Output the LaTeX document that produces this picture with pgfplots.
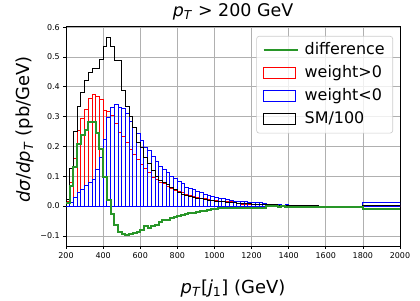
\documentclass[border=0pt]{standalone}
\usepackage{pgfplots}
\pgfplotsset{compat=1.18}
\usepackage{pgfplotstable}
\usepackage{fontspec}
\setmainfont{DejaVu Sans}
\definecolor{mgreen}{RGB}{40,150,40}
\definecolor{gridgray}{RGB}{176,176,176}
\definecolor{leggray}{RGB}{204,204,204}
\pgfplotstableread{
x red blue diff
200 0.017 0.008 0.009
220 0.079 0.012 0.067
240 0.160 0.030 0.130
260 0.252 0.045 0.207
280 0.293 0.055 0.238
300 0.324 0.068 0.256
320 0.361 0.080 0.281
340 0.373 0.090 0.283
360 0.368 0.123 0.245
380 0.356 0.164 0.192
400 0.322 0.224 0.098
420 0.317 0.297 0.020
440 0.305 0.332 -0.027
460 0.277 0.340 -0.063
480 0.246 0.332 -0.086
500 0.232 0.327 -0.095
520 0.214 0.311 -0.097
540 0.190 0.284 -0.094
560 0.172 0.262 -0.090
580 0.157 0.245 -0.088
600 0.138 0.220 -0.082
620 0.127 0.195 -0.068
640 0.114 0.188 -0.074
660 0.097 0.165 -0.068
680 0.088 0.150 -0.062
700 0.078 0.133 -0.055
720 0.075 0.123 -0.048
740 0.066 0.112 -0.046
760 0.060 0.100 -0.040
780 0.054 0.092 -0.038
800 0.049 0.082 -0.033
820 0.045 0.075 -0.030
840 0.038 0.064 -0.026
860 0.036 0.060 -0.024
880 0.033 0.055 -0.022
900 0.029 0.048 -0.019
920 0.026 0.044 -0.018
940 0.025 0.040 -0.015
960 0.022 0.034 -0.012
980 0.020 0.031 -0.011
1000 0.019 0.029 -0.010
1020 0.017 0.025 -0.008
1040 0.016 0.024 -0.008
1060 0.015 0.021 -0.006
1080 0.014 0.020 -0.006
1100 0.011 0.016 -0.005
1120 0.010 0.016 -0.006
1140 0.006 0.014 -0.008
1160 0.006 0.014 -0.008
1180 0.006 0.013 -0.007
1200 0.005 0.012 -0.007
1220 0.005 0.012 -0.007
1240 0.004 0.011 -0.007
1260 0.004 0.010 -0.006
1280 0.005 0.006 -0.001
1300 0.004 0.005 -0.001
1320 0.004 0.005 -0.001
1340 0.000 0.004 -0.004
1360 0.002 0.003 -0.001
1380 0.000 0.004 -0.004
1400 0.001 0.003 -0.002
1420 0.001 0.003 -0.002
1440 0.000 0.003 -0.003
1460 0.000 0.002 -0.002
1480 0.000 0.002 -0.002
1500 0.000 0.000 -0.002
1520 0.001 0.003 -0.002
1540 0.000 0.003 -0.002
1560 0.000 0.000 -0.002
1800 0.003 0.012 -0.009
2000 0.003 0.012 -0.009
}\histdata
\pgfplotstableread{
x sm
200 0.000
200 0.023
220 0.126
240 0.250
260 0.333
280 0.381
300 0.422
320 0.448
340 0.462
360 0.462
380 0.492
400 0.537
420 0.564
440 0.534
460 0.490
480 0.490
500 0.387
520 0.333
540 0.300
560 0.262
580 0.215
600 0.195
620 0.162
640 0.142
660 0.120
680 0.098
700 0.087
720 0.078
740 0.072
760 0.064
780 0.056
800 0.045
820 0.040
840 0.036
860 0.033
880 0.030
900 0.027
920 0.024
940 0.022
960 0.020
980 0.018
1000 0.016
1020 0.015
1040 0.014
1060 0.013
1080 0.012
1100 0.011
1120 0.010
1140 0.009
1160 0.008
1180 0.008
1200 0.007
1220 0.007
1240 0.006
1260 0.006
1280 0.005
1300 0.004
1320 0.004
1340 0.003
1360 0.003
1380 0.003
1400 0.002
1420 0.002
1440 0.002
1460 0.002
1480 0.001
1500 0.001
1520 0.001
1540 0.001
1560 0.000
1800 0.003
2000 0.003
2000 0.000
}\smdata
\begin{document}
\begin{tikzpicture}
\begin{axis}[
  scale only axis, width=334bp, height=220bp,
  at={(0,0)}, anchor=south west,
  xmin=200, xmax=2000, ymin=-0.134, ymax=0.604,
  xtick={200,400,600,800,1000,1200,1400,1600,1800,2000},
  xticklabels={200,400,600,800,1000,1200,1400,1600,1800,2000},
  ytick={-0.1,0,0.1,0.2,0.3,0.4,0.5,0.6},
  yticklabels={−0.1,0.0,0.1,0.2,0.3,0.4,0.5,0.6},
  tick label style={font=\fontsize{8}{9.6}\selectfont, black},
  grid=major, grid style={draw=gridgray, line width=0.64bp},
  tick align=outside, major tick length=2.8bp,
  xtick pos=bottom, ytick pos=left,
  axis line style={line width=0.64bp},
  every tick/.style={black, line width=0.64bp},
  title={\textit{p}\textsubscript{\textit{T}} > 200 GeV},
  title style={font=\fontsize{17.5}{21}\selectfont, at={(axis description cs:0.5,1.015)}, anchor=base},
  xlabel={\textit{p}\textsubscript{\textit{T}}[\textit{j}\textsubscript{1}] (GeV)},
  xlabel style={font=\fontsize{18}{21}\selectfont, at={(axis description cs:0.5,-0.214)}, anchor=base},
  ylabel={\textit{dσ}/\textit{dp}\textsubscript{\textit{T}} (pb/GeV)},
  ylabel style={font=\fontsize{18}{21}\selectfont, at={(axis description cs:-0.1228,0.53)}, anchor=center},
  legend style={at={(rel axis cs:1,1)}, anchor=north east, xshift=-7bp, yshift=-10bp,
    draw=leggray, line width=0.64bp, rounded corners=2.5bp, fill=white, fill opacity=0.8, text opacity=1,
    font=\fontsize{16}{19}\selectfont, inner xsep=6bp, inner ysep=6.5bp,
    row sep=8.6bp, column sep=4bp,
    nodes={inner xsep=2bp, inner ysep=0pt, text height=11.5bp, text depth=3bp}},
  legend cell align=left,
]
\addplot[ybar interval, draw=red, fill=none, line width=0.9bp, forget plot] table[x=x, y=red] {\histdata};
\addplot[ybar interval, draw=blue, fill=none, line width=0.9bp, forget plot] table[x=x, y=blue] {\histdata};
\addplot[const plot, draw=black, line width=0.9bp, forget plot] table[x=x, y=sm] {\smdata};
\addplot[const plot, draw=mgreen, line width=2bp, forget plot] table[x=x, y=diff] {\histdata};
\addlegendimage{legend image code/.code={\draw[mgreen, line width=2bp, sharp corners] (0bp,0bp) -- (34bp,0bp);}}
\addlegendentry{difference}
\addlegendimage{legend image code/.code={\draw[red, line width=0.9bp, fill=none, sharp corners] (0bp,-5.5bp) rectangle (32bp,5.5bp);}}
\addlegendentry{weight>0}
\addlegendimage{legend image code/.code={\draw[blue, line width=0.9bp, fill=none, sharp corners] (0bp,-5.5bp) rectangle (32bp,5.5bp);}}
\addlegendentry{weight<0}
\addlegendimage{legend image code/.code={\draw[black, line width=0.9bp, fill=none, sharp corners] (0bp,-5.5bp) rectangle (32bp,5.5bp);}}
\addlegendentry{SM/100}
\end{axis}
\path[use as bounding box] (-66bp,-50bp) rectangle (354bp,246bp);
\end{tikzpicture}
\end{document}
